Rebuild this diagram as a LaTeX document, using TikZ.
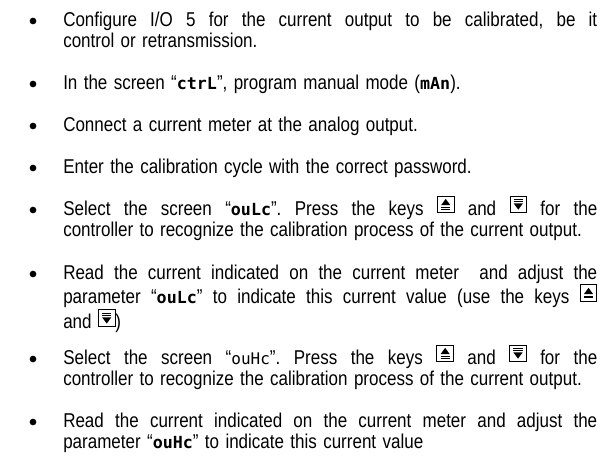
\documentclass[tikz,border=0pt]{standalone}
\usepackage{fontspec}
\setmainfont{Liberation Sans}[FakeStretch=0.85,WordSpace=1.35]
\newfontfamily\segfont{DejaVu Sans Mono}
\usetikzlibrary{positioning}
\frenchspacing

\tikzset{
  para/.style={anchor=base west, inner sep=0pt, text width=400.5pt, align=justify,
    font=\fontsize{15}{16.1}\selectfont},
  dot/.style={circle, fill=black, inner sep=0pt, minimum size=5pt},
}
\newcommand{\jline}[1]{\makebox[400.5pt][s]{#1}}
\newcommand{\seg}[1]{{\segfont\bfseries\fontsize{12.5}{12.5}\selectfont #1}}
\newcommand{\seglight}[1]{{\segfont\fontsize{12}{12}\selectfont #1}}
\newcommand{\keyup}{\tikz[baseline=-1.8pt]{%
  \draw[line width=0.6pt] (0pt,0pt) rectangle (12.5pt,12.5pt);
  \fill (2.8pt,5.6pt) -- (9.7pt,5.6pt) -- (6.25pt,10.3pt) -- cycle;
  \draw[line width=0.5pt] (2.8pt,4.1pt) -- (9.7pt,4.1pt) (2.8pt,2.8pt) -- (9.7pt,2.8pt);}}
\newcommand{\keydown}{\tikz[baseline=-1.8pt]{%
  \draw[line width=0.6pt] (0pt,0pt) rectangle (12.5pt,12.5pt);
  \fill (2.8pt,6.9pt) -- (9.7pt,6.9pt) -- (6.25pt,2.2pt) -- cycle;
  \draw[line width=0.5pt] (2.8pt,8.4pt) -- (9.7pt,8.4pt) (2.8pt,9.7pt) -- (9.7pt,9.7pt);}}

\begin{document}
\begin{tikzpicture}[x=0.75pt,y=-0.75pt]
  \useasboundingbox (0,0) rectangle (615,465);

  % bullets
  \node[dot] (b1) at (33,21) {};
  \node[dot] (b2) at (33,84) {};
  \node[dot] (b3) at (33,126) {};
  \node[dot] (b4) at (33,168) {};
  \node[dot] (b5) at (33,210) {};
  \node[dot] (b6) at (33,274) {};
  \node[dot] (b7) at (33,359) {};
  \node[dot] (b8) at (33,422) {};

  % steps
  \node[para] (p1) at (63,26) {\jline{Configure I/O 5 for the current output to be calibrated, be it}\\
    control or retransmission.};
  \node[para] (p2) at (63,89) {In the screen “\seg{ctrL}”, program manual mode (\seg{mAn}).};
  \node[para] (p3) at (63,131) {Connect a current meter at the analog output.};
  \node[para] (p4) at (63,173) {Enter the calibration cycle with the correct password.};
  \node[para] (p5) at (63,215) {\jline{Select the screen “\seg{ouLc}”. Press the keys \keyup{} and \keydown{} for the}\\
    controller to recognize the calibration process of the current output.};
  \node[para] (p6) at (63,279) {\jline{Read the current indicated on the current meter\ \ and adjust the}\\
    \jline{parameter “\seg{ouLc}” to indicate this current value (use the keys \keyup}\\
    and \keydown)};
  \node[para] (p7) at (63,364) {\jline{Select the screen “\seglight{ouHc}”. Press the keys \keyup{} and \keydown{} for the}\\
    controller to recognize the calibration process of the current output.};
  \node[para] (p8) at (63,427) {\jline{Read the current indicated on the current meter and adjust the}\\
    parameter “\seg{ouHc}” to indicate this current value};
\end{tikzpicture}
\end{document}
